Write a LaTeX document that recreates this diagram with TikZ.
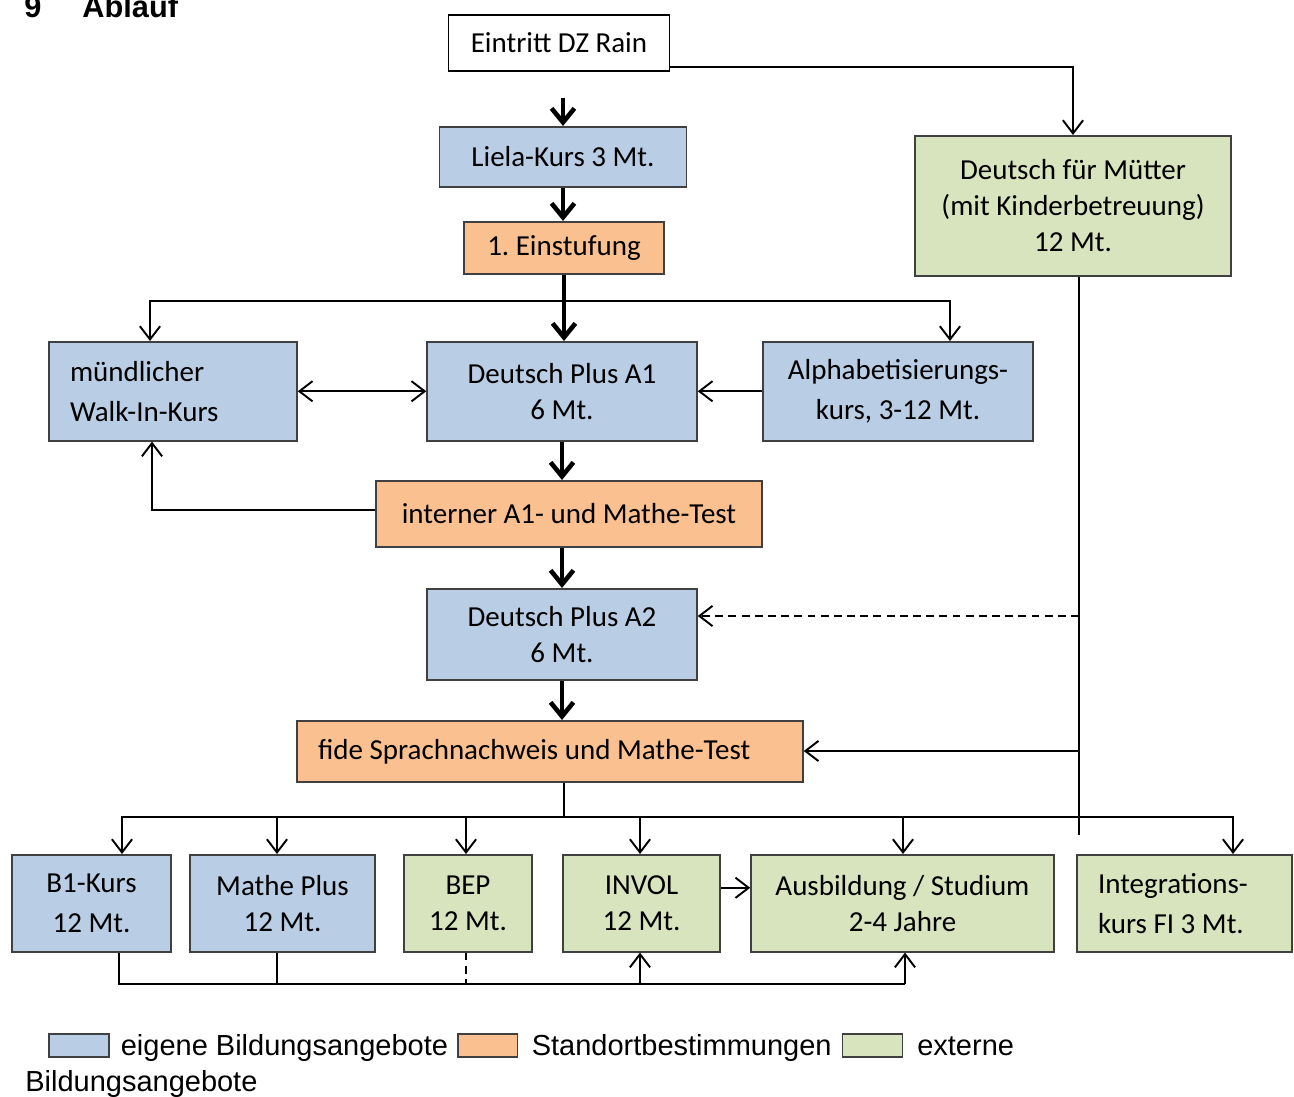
\documentclass[tikz,border=0pt]{standalone}
\usepackage{fontspec}
\setmainfont{Carlito}
\newfontfamily\arialfont{Liberation Sans}
\usepackage{xcolor}
\usetikzlibrary{positioning, arrows.meta}
\definecolor{mblue}{HTML}{B9CDE5}
\definecolor{morange}{HTML}{FAC090}
\definecolor{mgreen}{HTML}{D7E4BD}
\colorlet{myline}{black!75}
\newcommand{\boxfont}{\fontsize{16.5}{20.4}\selectfont\frenchspacing}
\newcommand{\boxfontwide}{\fontsize{16.5}{22.7}\selectfont\frenchspacing}
\tikzset{
  barb/.tip={Straight Barb[length=7.5pt,width=11.5pt]},
  bigbarb/.tip={Straight Barb[length=8pt,width=13pt]},
  box/.style={draw=myline,line width=0.9pt,inner sep=0pt,align=center,anchor=north,font=\boxfont},
  box own/.style={box,fill=mblue},
  box test/.style={box,fill=morange},
  box ext/.style={box,fill=mgreen},
  box left/.style={align=flush left,inner xsep=0.42cm},
  flow/.style={-bigbarb,line width=2.6pt},
  connect/.style={line width=1.1pt},
  connect arrow/.style={-barb,line width=1.1pt},
  dashes/.style={dash pattern=on 4.5pt off 3pt},
  legend box/.style={draw=myline,line width=0.6pt,minimum width=1.2cm,minimum height=0.46cm,inner sep=0pt},
  legend text/.style={inner sep=0pt,anchor=base west,font=\arialfont\fontsize{16.5}{20}\selectfont}
}

\begin{document}
\begin{tikzpicture}[x=0.02cm, y=-0.02cm]
  \useasboundingbox (0,0) rectangle (1294,1097);

  % Heading
  \node[anchor=base west, inner sep=0pt, font=\arialfont\bfseries\fontsize{17.5}{20}\selectfont] (title) at (24,18) {9\hspace{0.82cm}Ablauf};

  % Middle column
  \node[box, fill=white, draw=black, minimum width=4.42cm, minimum height=1.12cm] (eintritt) at (559,14) {Eintritt DZ Rain};
  \node[box own, minimum width=4.94cm, minimum height=1.2cm] (liela) at (563,126) {Liela-Kurs 3 Mt.};
  \node[box test, minimum width=4.0cm, minimum height=1.04cm] (einst) at (564,221) {1. Einstufung};
  \node[box own, minimum width=5.4cm, minimum height=1.98cm] (da1) at (562,341) {Deutsch Plus A1\\6 Mt.};
  \node[box test, minimum width=7.72cm, minimum height=1.32cm] (intern) at (569,480) {interner A1- und Mathe-Test};
  \node[box own, minimum width=5.4cm, minimum height=1.82cm] (da2) at (562,588) {Deutsch Plus A2\\6 Mt.};
  \node[box test, box left, text width=9.28cm, minimum height=1.22cm] (fide) at (550,720) {fide Sprachnachweis und Mathe-Test};

  % Side boxes
  \node[box ext, minimum width=6.32cm, minimum height=2.8cm] (muetter) at (1073,135) {Deutsch für Mütter\\(mit Kinderbetreuung)\\12 Mt.};
  \node[box own, box left, font=\boxfontwide, text width=4.12cm, minimum height=1.98cm] (walkin) at (173,341) {mündlicher\\Walk-In-Kurs};
  \node[box own, font=\boxfontwide, minimum width=5.4cm, minimum height=1.98cm] (alpha) at (898,341) {Alphabetisierungs-\\kurs, 3-12 Mt.};

  % Bottom row
  \node[box own, font=\boxfontwide, minimum width=3.18cm, minimum height=1.94cm] (b1) at (91.5,854) {B1-Kurs\\12 Mt.};
  \node[box own, minimum width=3.7cm, minimum height=1.94cm] (mathe) at (282.5,854) {Mathe Plus\\12 Mt.};
  \node[box ext, minimum width=2.56cm, minimum height=1.94cm] (bep) at (468,854) {BEP\\12 Mt.};
  \node[box ext, minimum width=3.14cm, minimum height=1.94cm] (invol) at (641.5,854) {INVOL\\12 Mt.};
  \node[box ext, minimum width=6.06cm, minimum height=1.94cm] (ausb) at (902.5,854) {Ausbildung / Studium\\2-4 Jahre};
  \node[box ext, box left, font=\boxfontwide, text width=3.46cm, minimum height=1.94cm] (integ) at (1184.5,854) {Integrations-\\kurs FI 3 Mt.};

  % Main path
  \draw[flow, shorten <=0.52cm] (eintritt.south -| liela.north) -- (liela.north);
  \draw[flow] (liela.south) -- (liela.south |- einst.north);
  \draw[flow] (einst.south) -- (einst.south |- da1.north);
  \draw[flow] (da1.south) -- (da1.south |- intern.north);
  \draw[flow] (intern.south -| da2.north) -- (da2.north);
  \draw[flow] (da2.south) -- (da2.south |- fide.north);

  % After Einstufung
  \coordinate (split) at (563,301);
  \draw[connect arrow] (split) -| ([xshift=-0.46cm]walkin.north);
  \draw[connect arrow] (split) -| ([xshift=1.04cm]alpha.north);
  \draw[connect arrow, barb-barb] (walkin.east) -- (da1.west);
  \draw[connect arrow] (alpha.west) -- (da1.east);
  \draw[connect arrow] ([yshift=0.08cm]intern.west) -| ([xshift=-0.42cm]walkin.south);

  % Deutsch fuer Muetter
  \draw[connect arrow] ([yshift=-0.48cm]eintritt.east) -| (muetter.north);
  \coordinate (mend) at (1079,835);
  \coordinate (mdash) at (1079,616);
  \coordinate (mfide) at (1079,751);
  \draw[connect] (mend |- muetter.south) -- (mend);
  \draw[connect arrow, dashes] (mdash) -- (mdash -| da2.east);
  \draw[connect arrow] (mfide) -- (mfide -| fide.east);

  % After fide test
  \coordinate (split2) at (564,817);
  \draw[connect] (split2 |- fide.south) -- (split2);
  \foreach \n/\x in {b1/122, mathe/277, bep/466, invol/640, ausb/903, integ/1233}
    \draw[connect arrow] (split2) -| (\n.north -| \x,0);
  \draw[connect arrow] ([yshift=0.31cm]invol.east) -- ([yshift=0.31cm]ausb.west);

  % Back to INVOL and Ausbildung
  \coordinate (ret) at (905,984);
  \draw[connect, line width=1.6pt] (b1.south -| 119,0) |- (ret);
  \draw[connect] (mathe.south -| 277,0) -- (ret -| 277,0);
  \draw[connect, dashes] (bep.south -| 466,0) -- (ret -| 466,0);
  \draw[connect arrow] (ret -| 640,0) -- (invol.south -| 640,0);
  \draw[connect arrow] (ret) -- (ausb.south -| ret);

  % Legend
  \node[legend box, fill=mblue] (lgown) at (79,1045.5) {};
  \node[legend text, xshift=0.22cm] (lgowntext) at (lgown.east |- 0,1055) {eigene Bildungsangebote};
  \node[legend box, fill=morange, anchor=west, xshift=0.18cm] (lgtest) at (lgowntext.east |- lgown.east) {};
  \node[legend text, xshift=0.26cm] (lgtesttext) at (lgtest.east |- 0,1055) {Standortbestimmungen};
  \node[legend box, fill=mgreen, anchor=west, xshift=0.2cm] (lgext) at (lgtesttext.east |- lgown.east) {};
  \node[legend text, xshift=0.28cm] (lgexttext) at (lgext.east |- 0,1055) {externe};
  \node[legend text] (lgexttext2) at (25,1091) {Bildungsangebote};

\end{tikzpicture}
\end{document}
